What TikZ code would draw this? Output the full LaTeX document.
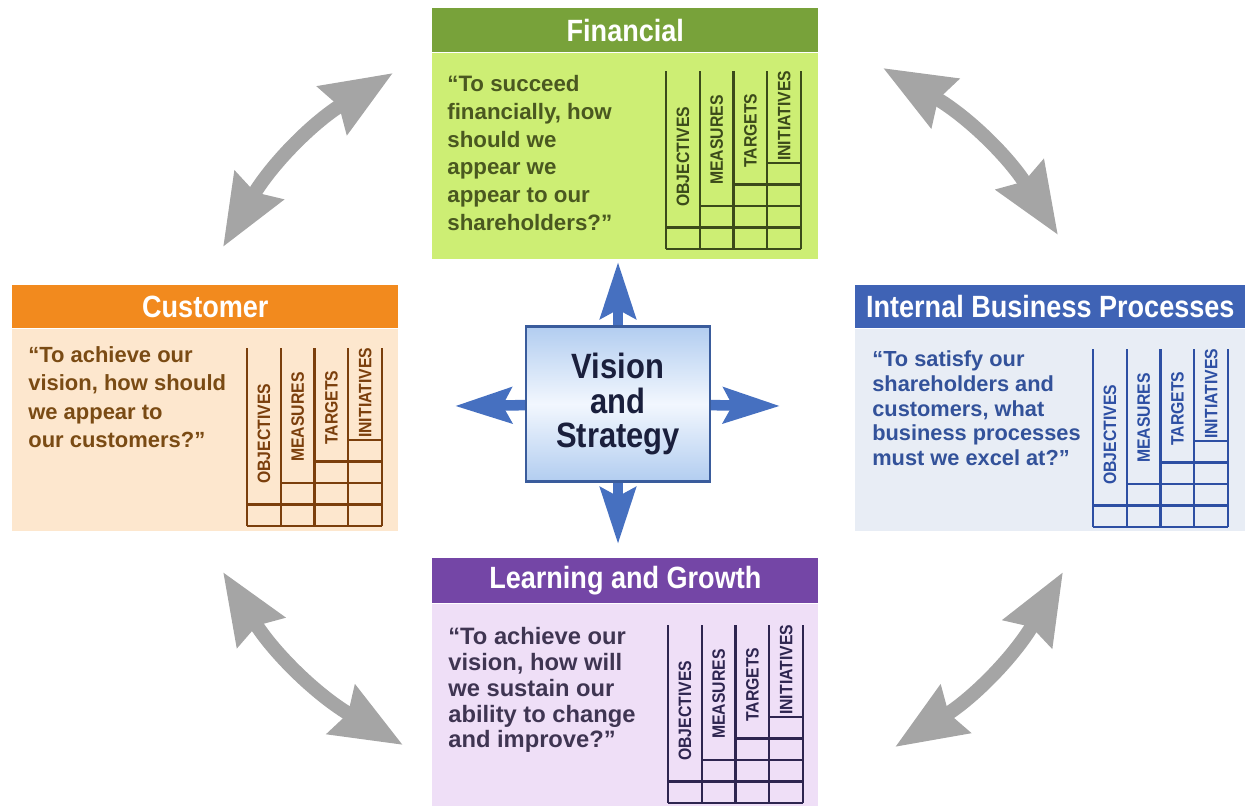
\documentclass[tikz,border=0pt]{standalone}
\usepackage{fontspec}
\setmainfont{Liberation Sans}
\newfontfamily\condfont{Liberation Sans}[FakeStretch=0.88]
\usetikzlibrary{arrows.meta, positioning}

\definecolor{finhead}{HTML}{78A23A}
\definecolor{finbody}{HTML}{CDEE74}
\definecolor{fintext}{HTML}{4A5820}
\definecolor{finline}{HTML}{3B4A1A}
\definecolor{custhead}{HTML}{F28A1E}
\definecolor{custbody}{HTML}{FDE7CE}
\definecolor{custtext}{HTML}{7A4B14}
\definecolor{custline}{HTML}{7B3F0C}
\definecolor{ibphead}{HTML}{3F63B5}
\definecolor{ibpbody}{HTML}{E8EDF5}
\definecolor{ibptext}{HTML}{33529A}
\definecolor{ibpline}{HTML}{2D4FA3}
\definecolor{lghead}{HTML}{7446A6}
\definecolor{lgbody}{HTML}{EFDFF7}
\definecolor{lgtext}{HTML}{3F3552}
\definecolor{lgline}{HTML}{2E2550}
\definecolor{vsblue}{HTML}{B2CDF0}
\definecolor{vslight}{HTML}{F2F7FE}
\definecolor{vsborder}{HTML}{3A5C9C}
\definecolor{vstext}{HTML}{1A1F3C}
\definecolor{vsarrow}{HTML}{4670C0}
\definecolor{linkgray}{HTML}{A5A5A5}

% measures table: name, left x, bottom y, colour
\newcommand{\bscgrid}[4]{%
  \begin{scope}[shift={(#2,#3)}, draw=#4, text=#4, line width=1.4pt]
    \foreach \c in {0,...,4} \draw (\c*33.75,0) -- (\c*33.75,-178);
    \draw (0,0) -- (135,0);
    \foreach \c in {0,...,3} {
      \foreach \r in {0,...,\c} \draw (\c*33.75,-\r*21.5-21.5) -- ++(33.75,0);
    }
    \node[colhead] (#1-obj) at (16.9,-41) {OBJECTIVES};
    \node[colhead] (#1-mea) at (50.6,-63) {MEASURES};
    \node[colhead] (#1-tar) at (84.4,-80) {TARGETS};
    \node[colhead] (#1-ini) at (118.1,-87) {INITIATIVES};
  \end{scope}}

\tikzset{
  headbar/.style={anchor=north west, inner sep=0, minimum width=7.72cm, minimum height=0.88cm, text=white, font=\condfont\bfseries\fontsize{17.5}{20}\selectfont},
  cardbody/.style={anchor=north west, inner sep=0, minimum width=7.72cm, minimum height=4.04cm},
  question/.style={anchor=north west, inner sep=0, align=left, font=\bfseries\fontsize{12.7}{15.8}\selectfont},
  colhead/.style={rotate=90, anchor=west, inner sep=0, font=\condfont\bfseries\fontsize{10.2}{11}\selectfont},
  bluearrow/.style={draw=vsarrow, line width=6pt, -{Stealth[length=32pt, width=20pt, inset=5pt]}},
  grayarrow/.style={draw=linkgray, line width=8pt, {Stealth[length=40pt, width=31pt, inset=4pt]}-{Stealth[length=40pt, width=31pt, inset=4pt]}}
}

\begin{document}
\begin{tikzpicture}[x=0.02cm, y=-0.02cm]
\useasboundingbox (0,0) rectangle (1250,805);

% Financial
\node[headbar, fill=finhead] (finhead) at (432,8) {Financial};
\node[cardbody, fill=finbody, minimum height=4.12cm] (fin) at (finhead.south west) {};
\node[question, text=fintext] (finq) at (447,75) {“To succeed\\financially, how\\should we\\appear we\\appear to our\\shareholders?”};
\bscgrid{fin}{666}{249}{finline}

% Customer
\node[headbar, fill=custhead, minimum height=0.86cm] (custhead) at (12,285) {Customer};
\node[cardbody, fill=custbody] (cust) at (custhead.south west) {};
\node[question, text=custtext, font=\bfseries\fontsize{12.5}{16.2}\selectfont] (custq) at (28,346) {“To achieve our\\vision, how should\\we appear to\\our customers?”};
\bscgrid{cust}{247}{526}{custline}

% Internal Business Processes
\node[headbar, fill=ibphead, minimum width=7.8cm, minimum height=0.86cm] (ibphead) at (855,285) {Internal Business Processes};
\node[cardbody, fill=ibpbody, minimum width=7.8cm] (ibp) at (ibphead.south west) {};
\node[question, text=ibptext, font=\bfseries\fontsize{12.4}{14.2}\selectfont] (ibpq) at (872,350) {“To satisfy our\\shareholders and\\customers, what\\business processes\\must we excel at?”};
\bscgrid{ibp}{1093}{527}{ibpline}

% Learning and Growth
\node[headbar, fill=lghead, minimum height=0.9cm] (lghead) at (432,558) {Learning and Growth};
\node[cardbody, fill=lgbody] (lg) at (lghead.south west) {};
\node[question, text=lgtext, font=\bfseries\fontsize{13.5}{14.7}\selectfont] (lgq) at (448,627) {“To achieve our\\vision, how will\\we sustain our\\ability to change\\and improve?”};
\bscgrid{lg}{668}{803}{lgline}

% Vision and Strategy with its four arrows
\coordinate (vs-up) at (618,262);
\coordinate (vs-down) at (618,544);
\coordinate (vs-left) at (455,406);
\coordinate (vs-right) at (780,406);
\node[minimum width=3.68cm, minimum height=3.1cm] (vs) at (618,404) {};
\draw[bluearrow] (vs.center) -- (vs-up);
\draw[bluearrow] (vs.center) -- (vs-down);
\draw[bluearrow] (vs.center) -- (vs-left);
\draw[bluearrow] (vs.center) -- (vs-right);
\node[draw=vsborder, line width=1.5pt, top color=vsblue, bottom color=vsblue, middle color=vslight, minimum width=3.68cm, minimum height=3.1cm, align=center, text=vstext, font=\condfont\bfseries\fontsize{20}{19.5}\selectfont] (vsbox) at (vs) {Vision\\and\\Strategy};

% Links between perspectives
\coordinate (tl-a) at (223,247);
\coordinate (tl-b) at (393,73);
\coordinate (tr-a) at (883,68);
\coordinate (tr-b) at (1058,235);
\coordinate (bl-a) at (223,572);
\coordinate (bl-b) at (403,745);
\coordinate (br-a) at (1063,572);
\coordinate (br-b) at (895,747);
\draw[grayarrow] (tl-a) to[bend left=14] (tl-b);
\draw[grayarrow] (tr-a) to[bend left=14] (tr-b);
\draw[grayarrow] (bl-a) to[bend right=14] (bl-b);
\draw[grayarrow] (br-a) to[bend left=14] (br-b);
\end{tikzpicture}
\end{document}
